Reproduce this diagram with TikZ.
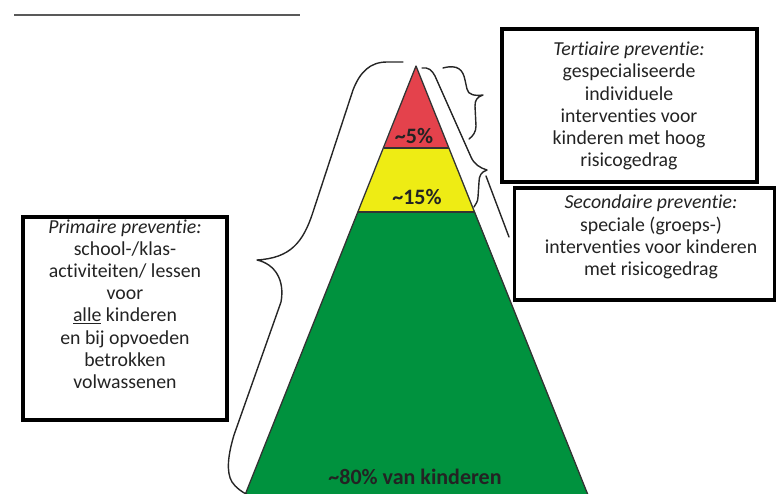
\documentclass[tikz,border=0pt]{standalone}
\usepackage{fontspec}
\setmainfont[Ligatures=NoCommon]{Carlito}
\usepackage{xcolor}
\definecolor{txt}{RGB}{35,35,35}
\definecolor{tred}{RGB}{228,66,76}
\definecolor{tyel}{RGB}{238,236,20}
\definecolor{tgrn}{RGB}{0,146,62}
\begin{document}
\begin{tikzpicture}[x=1pt,y=-1pt,
  boxframe/.style={draw=black,line width=3.4pt,inner sep=0pt},
  boxtext/.style={align=center,text=txt,font=\fontsize{19.8}{22.2}\selectfont,inner sep=0pt},
  pctlabel/.style={text=txt,font=\bfseries\fontsize{22}{24}\selectfont,inner sep=0pt},
  bracel/.style={draw=black!85,line width=1.4pt,line cap=round,line join=round}]
\useasboundingbox (0,0) rectangle (777,493);
% top-left rule
\coordinate (r1) at (14,15);
\coordinate (r2) at (300,15);
\draw[black!65,line width=1.5pt] (r1) -- (r2);
% pyramid
\coordinate (apex) at (416,66);
\coordinate (ra) at (384,148);
\coordinate (rb) at (449,148);
\coordinate (ya) at (358,212);
\coordinate (yb) at (475,212);
\coordinate (ga) at (245,495);
\coordinate (gb) at (588,495);
\fill[tgrn] (ya) -- (yb) -- (gb) -- (ga) -- cycle;
\fill[tyel] (ra) -- (rb) -- (yb) -- (ya) -- cycle;
\fill[tred] (apex) -- (rb) -- (ra) -- cycle;
\draw[black!80,line width=1.3pt,line join=round] (ga) -- (apex) -- (gb);
\draw[black!80,line width=1.5pt] (ra) -- (rb) (ya) -- (yb);
\node[pctlabel] (p5) at (414,136) {\textasciitilde5\%};
\node[pctlabel] (p15) at (417,197) {\textasciitilde15\%};
\node[pctlabel] (p80) at (415,477) {\textasciitilde80\% van kinderen};
% braces right
\draw[bracel] (443,68) .. controls (458,64) and (463,70) .. (465,80) -- (467,89)
  .. controls (468,95) and (475,96) .. (483,95)
  .. controls (477,97) and (475,100) .. (475,106) -- (476,126)
  .. controls (476,132) and (473,136) .. (469,139);
\draw[bracel] (422,68) .. controls (428,67) and (432,70) .. (435,76) -- (471,157)
  .. controls (474,164) and (480,168) .. (487,170)
  .. controls (481,172) and (479,176) .. (479,182) -- (478,197)
  .. controls (478,201) and (476,204) .. (474,207);
\coordinate (s1) at (486,176);
\coordinate (s2) at (509,237);
\draw[bracel] (s1) -- (s2);
% brace left
\draw[bracel] (403,62) -- (387,62) .. controls (370,62) and (360,72) .. (353,90)
  -- (313,212) .. controls (303,243) and (290,258) .. (257,260)
  .. controls (275,264) and (285,280) .. (281,302)
  -- (234,435) .. controls (228,455) and (226,472) .. (232,482)
  .. controls (236,488) and (242,492) .. (248,495);
% boxes
\node[boxframe,minimum width=255pt,minimum height=153pt] (tbox) at (629.5,105.5) {};
\node[boxtext] (ttext) at (629,106) {\textit{Tertiaire preventie:}\\gespecialiseerde\\individuele\\interventies voor\\kinderen met hoog\\risicogedrag};
\node[boxframe,minimum width=260pt,minimum height=112pt] (sbox) at (644.5,244) {};
\node[boxtext] (stext) at (651,237) {\textit{Secondaire preventie:}\\speciale (groeps-)\\interventies voor kinderen\\met risicogedrag};
\node[boxframe,minimum width=204pt,minimum height=203pt] (pbox) at (125,318.5) {};
\node[boxtext] (ptext) at (125,304) {\textit{Primaire preventie:}\\school-/klas-\\activiteiten/ lessen\\voor\\\underline{alle} kinderen\\en bij opvoeden\\betrokken\\volwassenen};
\end{tikzpicture}
\end{document}
